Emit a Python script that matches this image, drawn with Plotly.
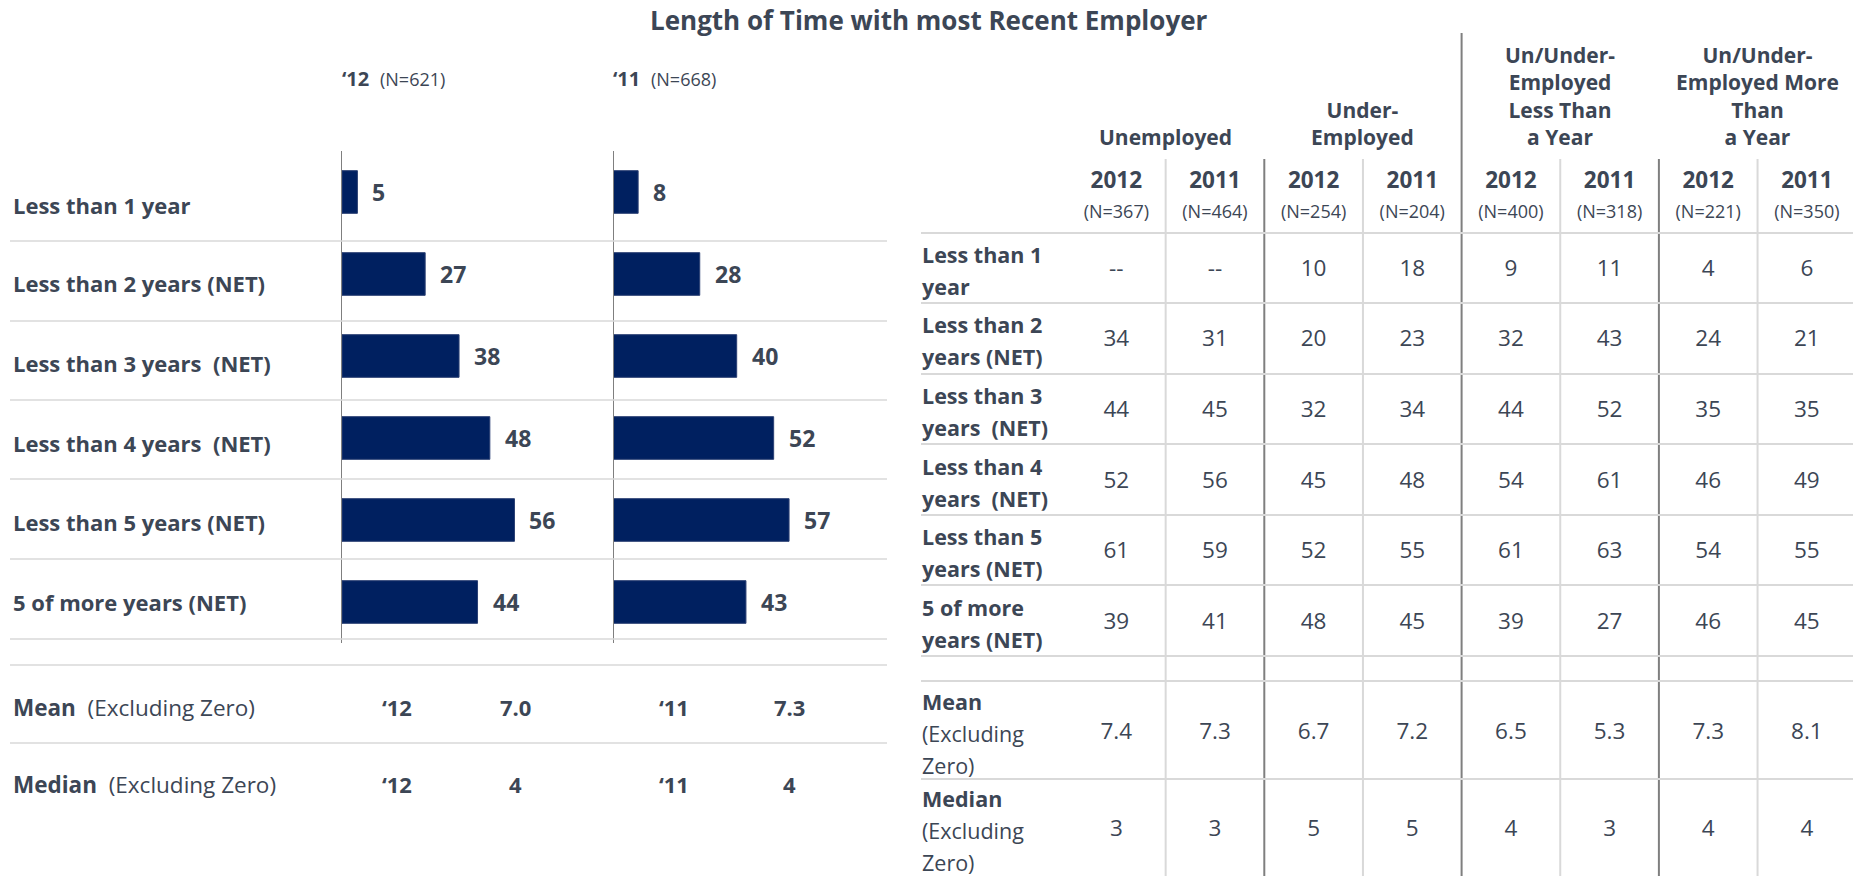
import plotly.graph_objects as go

# ---------------- data ----------------
title = "Length of Time with most Recent Employer"

bar_categories = [
    "Less than 1 year",
    "Less than 2 years (NET)",
    "Less than 3 years\u00a0 (NET)",
    "Less than 4 years\u00a0 (NET)",
    "Less than 5 years (NET)",
    "5 of more years (NET)",
]
share_2012 = [5, 27, 38, 48, 56, 44]
share_2011 = [8, 28, 40, 52, 57, 43]
panel_years = ["\u201812", "\u201811"]
panel_ns = ["(N=621)", "(N=668)"]
mean_by_year = ["7.0", "7.3"]
median_by_year = ["4", "4"]

groups = [
    ["Unemployed"],
    ["Under-", "Employed"],
    ["Un/Under-", "Employed", "Less Than", "a Year"],
    ["Un/Under-", "Employed More", "Than", "a Year"],
]
col_years = ["2012", "2011", "2012", "2011", "2012", "2011", "2012", "2011"]
col_ns = ["(N=367)", "(N=464)", "(N=254)", "(N=204)", "(N=400)", "(N=318)", "(N=221)", "(N=350)"]
table_rows = [
    ["<b>Less than 1</b>", "<b>year</b>"],
    ["<b>Less than 2</b>", "<b>years (NET)</b>"],
    ["<b>Less than 3</b>", "<b>years\u00a0 (NET)</b>"],
    ["<b>Less than 4</b>", "<b>years\u00a0 (NET)</b>"],
    ["<b>Less than 5</b>", "<b>years (NET)</b>"],
    ["<b>5 of more</b>", "<b>years (NET)</b>"],
    ["<b>Mean</b>", "(Excluding", "Zero)"],
    ["<b>Median</b>", "(Excluding", "Zero)"],
]
row_less1 = ["--", "--", "10", "18", "9", "11", "4", "6"]
row_less2 = ["34", "31", "20", "23", "32", "43", "24", "21"]
row_less3 = ["44", "45", "32", "34", "44", "52", "35", "35"]
row_less4 = ["52", "56", "45", "48", "54", "61", "46", "49"]
row_less5 = ["61", "59", "52", "55", "61", "63", "54", "55"]
row_5plus = ["39", "41", "48", "45", "39", "27", "46", "45"]
row_mean = ["7.4", "7.3", "6.7", "7.2", "6.5", "5.3", "7.3", "8.1"]
row_median = ["3", "3", "5", "5", "4", "3", "4", "4"]
table_values = [row_less1, row_less2, row_less3, row_less4, row_less5, row_5plus, row_mean, row_median]

# ---------------- style / layout constants ----------------
W, H = 1853, 876
FONT = "Open Sans"
TXT = "#3c4655"
NAVY = "#002060"
LIGHT = "#d9d9d9"
DARK = "#7f7f7f"
PXU = 3.08          # pixels per percentage point
BAR_W = 260         # pixel width of each bar panel

def px(x):
    return x / W

def py(y):
    return 1 - y / H

fig = go.Figure()

# ---------------- bar panels ----------------
panel_left = [342, 613.5]
for k, (vals, axx, axy) in enumerate([(share_2012, "x", "y"), (share_2011, "x2", "y2")]):
    fig.add_trace(go.Bar(
        x=vals, y=bar_categories, orientation="h", xaxis=axx, yaxis=axy,
        marker=dict(color=NAVY, line=dict(color="#2a3f73", width=1)),
        width=0.52, hoverinfo="skip", showlegend=False,
    ))
    for v, c in zip(vals, bar_categories):
        fig.add_annotation(
            x=v, y=c, xref=axx, yref=axy, text=f"<b>{v}</b>", showarrow=False,
            xanchor="left", xshift=13, font=dict(family=FONT, size=23, color=TXT),
        )

for k, (xa, ya) in enumerate([("xaxis", "yaxis"), ("xaxis2", "yaxis2")]):
    x0 = panel_left[k]
    anchor_y = "y" if k == 0 else "y2"
    anchor_x = "x" if k == 0 else "x2"
    fig.update_layout(**{
        xa: dict(domain=[px(x0), px(x0 + BAR_W)], range=[0, BAR_W / PXU], visible=False,
                 anchor=anchor_y, fixedrange=True),
        ya: dict(domain=[py(643), py(151)], type="category", categoryarray=bar_categories,
                 autorange="reversed", showline=True, linecolor=DARK, linewidth=1,
                 showticklabels=False, ticks="", showgrid=False, zeroline=False,
                 anchor=anchor_x, fixedrange=True),
    })

# page-pixel axes (x3/y3) for layout text, and a column axis (x4) for the table
fig.update_layout(
    xaxis3=dict(domain=[0, 1], range=[0, W], visible=False, anchor="y3", fixedrange=True),
    yaxis3=dict(domain=[0, 1], range=[H, 0], visible=False, anchor="x3", fixedrange=True),
    xaxis4=dict(domain=[px(1067), 1], range=[-0.5, -0.5 + (W - 1067) / 98.65],
                visible=False, anchor="y3", fixedrange=True),
)

def text(x, y, s, size, xanchor="center", bold=False):
    fig.add_annotation(
        x=x, y=y, xref="x3", yref="y3", text=(f"<b>{s}</b>" if bold else s),
        showarrow=False, xanchor=xanchor, yanchor="middle",
        font=dict(family=FONT, size=size, color=TXT),
    )

def hline(x0, x1, y, color=LIGHT, width=1.6):
    fig.add_shape(type="line", xref="x3", yref="y3", x0=x0, x1=x1, y0=y, y1=y,
                  line=dict(color=color, width=width))

def vline(x, y0, y1, color, width):
    fig.add_shape(type="line", xref="x3", yref="y3", x0=x, x1=x, y0=y0, y1=y1,
                  line=dict(color=color, width=width))

# title
text(929, 20, title, 26, bold=True)

# left panel headers
for k, (x_yr, x_n) in enumerate([(340, 378), (611, 649)]):
    text(x_yr, 78, panel_years[k], 20, xanchor="left", bold=True)
    text(x_n, 79, panel_ns[k], 18, xanchor="left")

# left row labels and separators
left_label_y = [205, 283, 363, 443, 522, 602]
for lbl, yy in zip(bar_categories, left_label_y):
    text(11, yy, lbl, 22, xanchor="left", bold=True)
for yy in [241, 321, 400, 479, 559, 639, 665, 743]:
    hline(10, 887, yy)

# mean / median rows
for yy, lab, vals in [(707, "Mean", mean_by_year), (784, "Median", median_by_year)]:
    text(11, yy, f"<b>{lab}</b>\u00a0 (Excluding Zero)", 22.5, xanchor="left")
    text(397, yy, panel_years[0], 22, bold=True)
    text(515, yy, vals[0], 22, bold=True)
    text(674, yy, panel_years[1], 22, bold=True)
    text(789, yy, vals[1], 22, bold=True)

# ---------------- right table ----------------
COL0, COLW = 1067, 98.65
for k in range(1, 8):
    xx = COL0 + COLW * k
    if k == 4:
        vline(xx, 33, H, DARK, 2)
    elif k % 2 == 0:
        vline(xx, 159, H, DARK, 2)
    else:
        vline(xx, 159, H, LIGHT, 2)
for yy in [233, 303, 374, 444, 515, 585, 656, 681, 779]:
    hline(921, W, yy, width=2)

# group headers (last line centred at y=137), one multi-line text each
GH = 21
for g, lines in enumerate(groups):
    cxx = COL0 + COLW * (2 * g + 1)
    n = len(lines)
    cy = 137 - (n - 1) / 2 * GH * 1.3
    text(cxx, cy, "<br>".join(lines), GH, bold=True)

col_idx = list(range(len(col_years)))
fig.add_trace(go.Scatter(
    x=col_idx, y=[182] * len(col_idx), xaxis="x4", yaxis="y3", mode="text",
    text=[f"<b>{t}</b>" for t in col_years], textposition="middle center",
    textfont=dict(family=FONT, size=22.5, color=TXT), hoverinfo="skip", showlegend=False,
))
fig.add_trace(go.Scatter(
    x=col_idx, y=[213] * len(col_idx), xaxis="x4", yaxis="y3", mode="text",
    text=col_ns, textposition="middle center",
    textfont=dict(family=FONT, size=18, color=TXT), hoverinfo="skip", showlegend=False,
))

row_y = [270, 340, 411, 482, 552, 623, 733, 830]
for r, (vals, yy) in enumerate(zip(table_values, row_y)):
    fig.add_trace(go.Scatter(
        x=col_idx, y=[yy] * len(col_idx), xaxis="x4", yaxis="y3", mode="text",
        text=vals, textposition="middle center",
        textfont=dict(family=FONT, size=22.5, color=TXT), hoverinfo="skip", showlegend=False,
    ))
    lines = table_rows[r]
    n = len(lines)
    for i, ln in enumerate(lines):
        text(920, yy + (i - (n - 1) / 2) * 32, ln, 21.5, xanchor="left")

fig.update_layout(
    width=W, height=H, margin=dict(l=0, r=0, t=0, b=0),
    paper_bgcolor="white", plot_bgcolor="rgba(0,0,0,0)",
    font=dict(family=FONT, color=TXT), showlegend=False,
)

fig.write_html(
    "out.html",
    config={"displayModeBar": False, "staticPlot": True},
    post_script="document.body.style.margin='0';document.body.style.overflow='hidden';",
)
